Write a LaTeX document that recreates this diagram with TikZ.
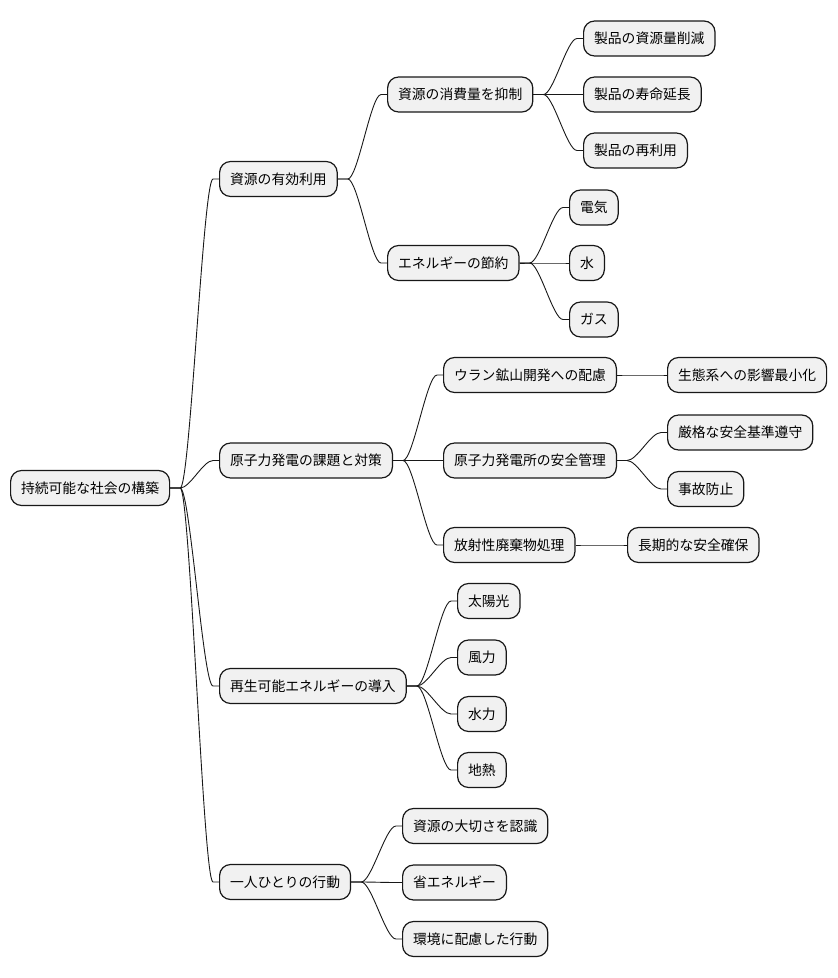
\documentclass[tikz,border=0pt]{standalone}
\usepackage{fontspec}
\setmainfont{Noto Sans CJK JP}
\usepackage{tikz}
\usetikzlibrary{
  calc,
  positioning
}
\definecolor{NodeFill}{RGB}{241,241,241}
\definecolor{NodeLine}{RGB}{24,24,24}
\tikzset{
  topic/.style={draw=NodeLine,fill=NodeFill,line width=1.2pt,rounded corners=11pt,minimum height=35pt,inner xsep=10.5pt,inner ysep=0pt,anchor=west,font=\fontsize{13.8}{16}\selectfont},
  edge/.style={draw=NodeLine,line width=0.9pt}
}
% curved mind map branch from parent (#1) to child (#2)
\newcommand{\branch}[2]{%
  \draw[edge] let \p1=(#1.east), \p2=(#2.west), \n1={0.3*(\x2-\x1-16pt)} in
    (\p1) -- ({\x1+10pt},\y1)
    .. controls ({\x1+10pt+\n1},\y1) and ({\x2-6pt-\n1},\y2) .. ({\x2-6pt},\y2)
    -- (\p2);}

\begin{document}
\begin{tikzpicture}[x=1pt,y=-1pt]
\useasboundingbox (0,0) rectangle (838,978);

\node[topic] (root) at (10,488) {持続可能な社会の構築};

\node[topic] (res) at (219,179) {資源の有効利用};
\node[topic] (res1) at (387,94.5) {資源の消費量を抑制};
\node[topic] (res11) at (583,38.5) {製品の資源量削減};
\node[topic] (res12) at (583,94.5) {製品の寿命延長};
\node[topic] (res13) at (583,150.5) {製品の再利用};
\node[topic] (res2) at (387,263) {エネルギーの節約};
\node[topic] (res21) at (569,207.5) {電気};
\node[topic] (res22) at (569,263) {水};
\node[topic] (res23) at (569,319.5) {ガス};

\node[topic] (nuc) at (219,460.5) {原子力発電の課題と対策};
\node[topic] (nuc1) at (443,375) {ウラン鉱山開発への配慮};
\node[topic] (nuc11) at (667,375) {生態系への影響最小化};
\node[topic] (nuc2) at (443,460.5) {原子力発電所の安全管理};
\node[topic] (nuc21) at (667,432.5) {厳格な安全基準遵守};
\node[topic] (nuc22) at (667,489) {事故防止};
\node[topic] (nuc3) at (443,545) {放射性廃棄物処理};
\node[topic] (nuc31) at (627,545) {長期的な安全確保};

\node[topic] (ren) at (219,686) {再生可能エネルギーの導入};
\node[topic] (ren1) at (457,601) {太陽光};
\node[topic] (ren2) at (457,657.5) {風力};
\node[topic] (ren3) at (457,714) {水力};
\node[topic] (ren4) at (457,770) {地熱};

\node[topic] (act) at (219,882) {一人ひとりの行動};
\node[topic] (act1) at (402,826) {資源の大切さを認識};
\node[topic] (act2) at (402,882.5) {省エネルギー};
\node[topic] (act3) at (402,939) {環境に配慮した行動};

\foreach \c in {res,nuc,ren,act} {\branch{root}{\c}}
\foreach \c in {res1,res2} {\branch{res}{\c}}
\foreach \c in {res11,res12,res13} {\branch{res1}{\c}}
\foreach \c in {res21,res22,res23} {\branch{res2}{\c}}
\foreach \c in {nuc1,nuc2,nuc3} {\branch{nuc}{\c}}
\branch{nuc1}{nuc11}
\foreach \c in {nuc21,nuc22} {\branch{nuc2}{\c}}
\branch{nuc3}{nuc31}
\foreach \c in {ren1,ren2,ren3,ren4} {\branch{ren}{\c}}
\foreach \c in {act1,act2,act3} {\branch{act}{\c}}
\end{tikzpicture}
\end{document}
